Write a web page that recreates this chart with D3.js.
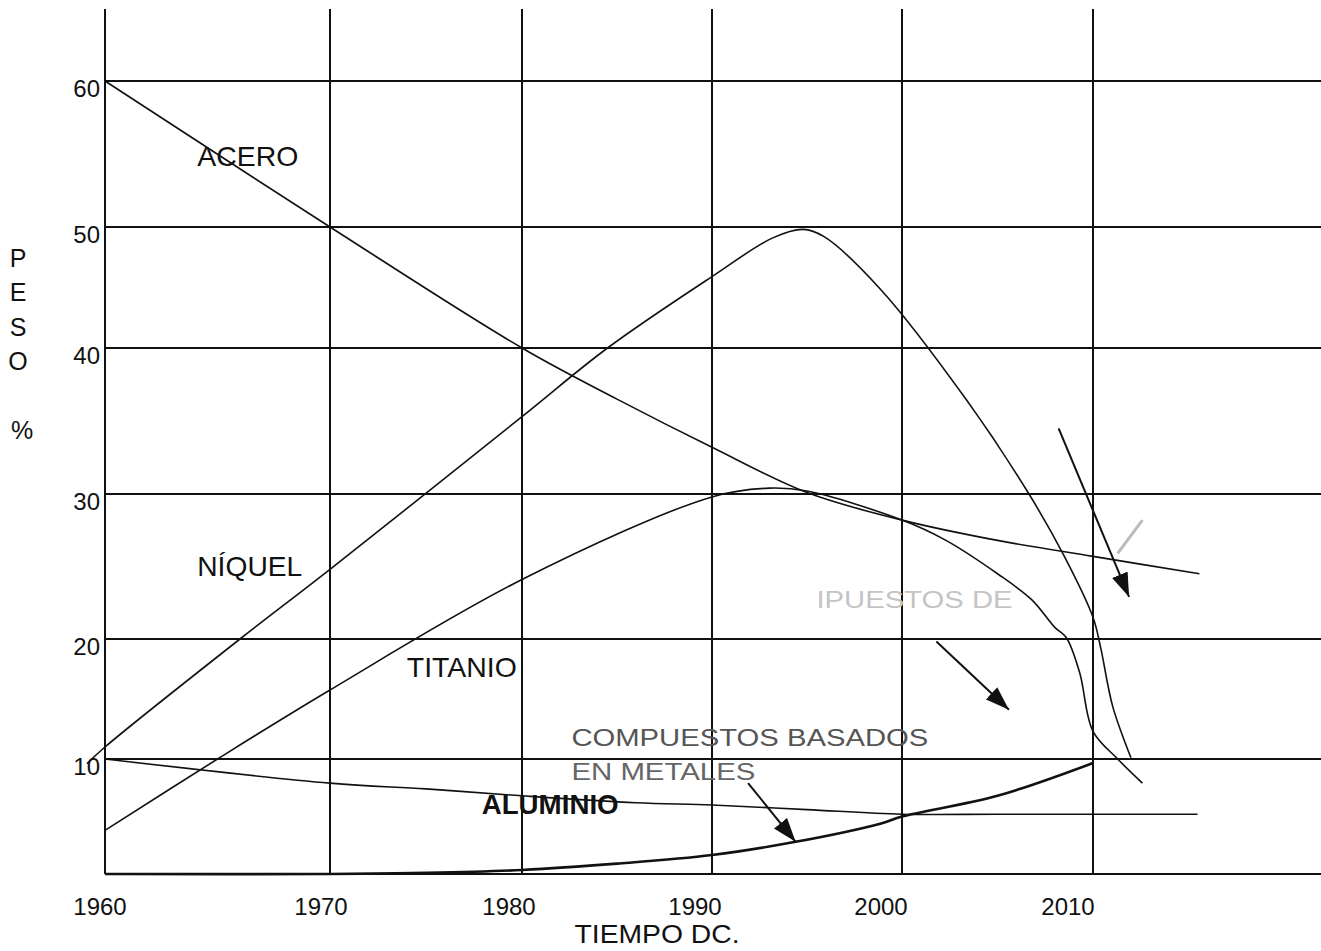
<!DOCTYPE html>
<html>
<head>
<meta charset="utf-8">
<script src="https://cdn.jsdelivr.net/npm/d3@7"></script>
<style>
  html, body { margin: 0; padding: 0; background: #fff; }
  svg text { font-family: "Liberation Sans", Arial, sans-serif; }
</style>
</head>
<body>
<div id="chart"></div>
<script>
// tick values
const yearTicks = [1960, 1970, 1980, 1990, 2000, 2010];
const pesoTicks = [10, 20, 30, 40, 50, 60];

// series (año, % peso)
const aceroYears  = [1960, 1970, 1980, 1985, 1990, 1995, 2000, 2005, 2010, 2015.6];
const aceroValues = [60, 50, 40, 36.5, 33.2, 30.1, 28.2, 26.8, 25.7, 24.5];

const niquelYears  = [1959.2, 1960, 1966, 1970, 1980, 1984.5, 1990, 1993.2, 1994.8, 1995.9, 1998.9, 2003.4, 2006.6, 2008.5, 2010, 2010.4, 2011.05, 2012];
const niquelValues = [9.6, 11, 20, 24.8, 35.3, 40, 45.9, 49.1, 49.8, 49.2, 44.8, 36.4, 30.1, 25.7, 21.5, 19.3, 14.3, 10.1];

const titanioYears  = [1960, 1965, 1970, 1980, 1990, 1993, 1995, 2000, 2002.3, 2005, 2006.8, 2008, 2008.6, 2009.3, 2010, 2011.3, 2012.6];
const titanioValues = [3.8, 10, 15.75, 24.1, 29.8, 30.4, 30.2, 28.2, 26.8, 24.5, 22.7, 20.8, 20.1, 17.2, 12.3, 10, 7.9];

const aluminioYears  = [1960, 1970, 1975, 1980, 1986, 1990, 1995, 2000, 2005, 2010, 2015.5];
const aluminioValues = [10, 7.9, 7.4, 6.8, 6.2, 6.0, 5.6, 5.2, 5.2, 5.2, 5.2];

const compuestoYears  = [1960, 1970, 1975, 1980, 1985, 1990, 1994.4, 1998.9, 2000, 2005, 2010];
const compuestoValues = [0, 0, 0.1, 0.35, 0.9, 1.65, 2.8, 4.4, 5.0, 6.8, 9.65];

// labels: [texto, año, valor]
const labelText   = ["ACERO", "NÍQUEL", "TITANIO", "ALUMINIO", "COMPUESTOS BASADOS", "EN METALES", "IPUESTOS DE"];
const labelYears  = [1964.1, 1964.1, 1974, 1977.9, 1982.6, 1982.6, 1995.5];
const labelValues = [54.8, 25.0, 17.6, 6.0, 11.8, 8.9, 22.7];

// arrows: from (año, valor) to (año, valor)
const arrowFromYears  = [1991.9, 2001.8, 2008.2];
const arrowFromValues = [7.9, 19.8, 34.5];
const arrowToYears    = [1994.4, 2005.6, 2011.9];
const arrowToValues   = [2.8, 14.1, 22.9];

function drawChart() {
    let width = 1321;
    let height = 951;
    let top = 9;

    let svg = d3.select("#chart")
        .append("svg")
        .attr("width", width)
        .attr("height", height);

    // the scanned grid is not evenly spaced, so use piecewise scales
    let x = d3.scaleLinear()
        .domain([1960, 1970, 1980, 1990, 2000, 2010, 2020])
        .range([105, 330, 522, 712, 902, 1093, 1283]);

    let y = d3.scaleLinear()
        .domain([0, 10, 20, 30, 40, 50, 60])
        .range([874, 759, 639, 494, 348, 227, 81]);

    let ink = "#111";

    // grid
    let grid = svg.append("g");
    grid.selectAll(".vline")
        .data(yearTicks)
        .enter()
        .append("line")
        .attr("x1", d => x(d)).attr("x2", d => x(d))
        .attr("y1", top).attr("y2", y(0))
        .attr("stroke", ink)
        .attr("stroke-width", 2);

    grid.selectAll(".hline")
        .data([0].concat(pesoTicks))
        .enter()
        .append("line")
        .attr("x1", x(1960)).attr("x2", width)
        .attr("y1", d => y(d)).attr("y2", d => y(d))
        .attr("stroke", ink)
        .attr("stroke-width", 2);

    // tick labels
    svg.selectAll(".ytick")
        .data(pesoTicks)
        .enter()
        .append("text")
        .attr("x", x(1960) - 5)
        .attr("y", d => y(d) + 7)
        .attr("text-anchor", "end")
        .attr("dominant-baseline", "central")
        .attr("font-size", 24)
        .attr("fill", ink)
        .text(d => d);

    let labelShift = d3.scaleLinear().domain([1960, 2010]).range([5, 25]);
    svg.selectAll(".xtick")
        .data(yearTicks)
        .enter()
        .append("text")
        .attr("x", d => x(d) - labelShift(d))
        .attr("y", 906)
        .attr("text-anchor", "middle")
        .attr("dominant-baseline", "central")
        .attr("font-size", 24)
        .attr("fill", ink)
        .text(d => d);

    // axis titles
    svg.append("text")
        .attr("x", 657).attr("y", 934)
        .attr("text-anchor", "middle")
        .attr("dominant-baseline", "central")
        .attr("font-size", 25)
        .attr("textLength", 165)
        .attr("lengthAdjust", "spacingAndGlyphs")
        .attr("fill", ink)
        .text("TIEMPO DC.");

    svg.selectAll(".ytitle")
        .data(["P", "E", "S", "O"])
        .enter()
        .append("text")
        .attr("x", 18)
        .attr("y", (d, i) => 258 + i * 34.3)
        .attr("text-anchor", "middle")
        .attr("dominant-baseline", "central")
        .attr("font-size", 25)
        .attr("fill", ink)
        .text(d => d);
    svg.append("text")
        .attr("x", 22).attr("y", 430)
        .attr("text-anchor", "middle")
        .attr("dominant-baseline", "central")
        .attr("font-size", 25)
        .attr("fill", ink)
        .text("%");

    // series
    let line = d3.line()
        .x(d => x(d[0]))
        .y(d => y(d[1]))
        .curve(d3.curveCatmullRom.alpha(0.5));

    let series = [
        { years: aceroYears, values: aceroValues, w: 1.6 },
        { years: niquelYears, values: niquelValues, w: 1.6 },
        { years: titanioYears, values: titanioValues, w: 1.6 },
        { years: aluminioYears, values: aluminioValues, w: 1.6 },
        { years: compuestoYears, values: compuestoValues, w: 2.6 }
    ];

    svg.selectAll(".serie")
        .data(series)
        .enter()
        .append("path")
        .attr("d", s => line(s.years.map((yr, i) => [yr, s.values[i]])))
        .attr("fill", "none")
        .attr("stroke", ink)
        .attr("stroke-width", s => s.w)
        .attr("stroke-linejoin", "round");

    // labels
    let widths = [101, 105, 110, 137, 357, 184, 196];
    let sizes = [28, 28, 28, 27, 24, 24, 24];
    let fills = [ink, ink, ink, ink, "#555", "#666", "#c4c4c4"];
    let weights = ["normal", "normal", "normal", "bold", "normal", "normal", "normal"];
    svg.selectAll(".lbl")
        .data(labelText)
        .enter()
        .append("text")
        .attr("x", (d, i) => x(labelYears[i]))
        .attr("y", (d, i) => y(labelValues[i]))
        .attr("dominant-baseline", "central")
        .attr("font-size", (d, i) => sizes[i])
        .attr("font-weight", (d, i) => weights[i])
        .attr("textLength", (d, i) => widths[i])
        .attr("lengthAdjust", "spacingAndGlyphs")
        .attr("fill", (d, i) => fills[i])
        .text(d => d);

    // arrows
    svg.append("defs").append("marker")
        .attr("id", "head")
        .attr("viewBox", "0 0 20 14")
        .attr("refX", 20).attr("refY", 7)
        .attr("markerWidth", 24).attr("markerHeight", 17)
        .attr("markerUnits", "userSpaceOnUse")
        .attr("orient", "auto")
        .append("path")
        .attr("d", "M0,0 L20,7 L0,14 Z")
        .attr("fill", ink);

    svg.selectAll(".arrow")
        .data(arrowFromYears)
        .enter()
        .append("line")
        .attr("x1", (d, i) => x(arrowFromYears[i]))
        .attr("y1", (d, i) => y(arrowFromValues[i]))
        .attr("x2", (d, i) => x(arrowToYears[i]))
        .attr("y2", (d, i) => y(arrowToValues[i]))
        .attr("stroke", ink)
        .attr("stroke-width", 2)
        .attr("marker-end", "url(#head)");

    // faint stroke left in the scan
    svg.append("line")
        .attr("x1", x(2012.6)).attr("y1", y(28.2))
        .attr("x2", x(2011.3)).attr("y2", y(25.9))
        .attr("stroke", "#bbb")
        .attr("stroke-width", 3);
}

window.onload = () => {
    drawChart();
}
</script>
</body>
</html>
